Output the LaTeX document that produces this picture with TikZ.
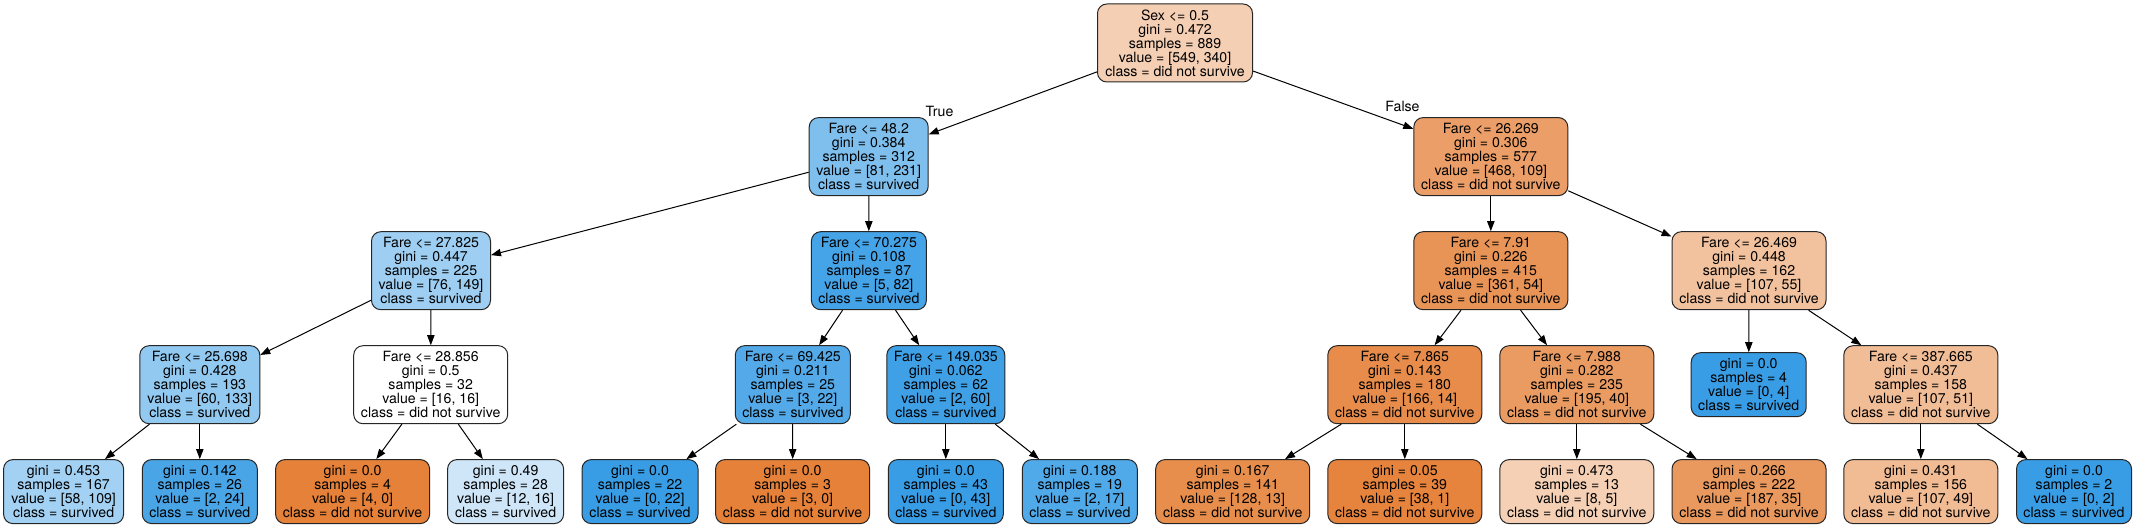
\documentclass[tikz,border=0pt]{standalone}
\usepackage{fontspec}
\setmainfont{TeX Gyre Heros}
\usetikzlibrary{arrows.meta}
\definecolor{cRoot}{RGB}{245,207,180}
\definecolor{cA}{RGB}{126,191,238}
\definecolor{cB}{RGB}{235,158,103}
\definecolor{cC}{RGB}{158,207,242}
\definecolor{cD}{RGB}{69,163,231}
\definecolor{cE}{RGB}{233,148,87}
\definecolor{cF}{RGB}{242,194,159}
\definecolor{cG}{RGB}{146,201,241}
\definecolor{cH}{RGB}{255,255,255}
\definecolor{cI}{RGB}{84,170,233}
\definecolor{cJ}{RGB}{64,160,230}
\definecolor{cK}{RGB}{231,140,74}
\definecolor{cL}{RGB}{234,155,98}
\definecolor{cM}{RGB}{241,189,151}
\definecolor{blueF}{RGB}{57,157,229}
\definecolor{orangeF}{RGB}{229,129,57}
\definecolor{l1c}{RGB}{162,209,243}
\definecolor{l2c}{RGB}{74,165,231}
\definecolor{l4c}{RGB}{206,230,248}
\definecolor{l8c}{RGB}{80,169,232}
\definecolor{l9c}{RGB}{232,142,77}
\definecolor{l10c}{RGB}{230,132,62}
\definecolor{l11c}{RGB}{245,208,181}
\definecolor{l12c}{RGB}{234,153,94}
\definecolor{l13c}{RGB}{241,187,148}
\begin{document}
\begin{tikzpicture}[x=0.75pt,y=-0.75pt,
  tn/.style={draw=black!85, line width=0.75pt, rounded corners=7pt, align=center, inner sep=0pt,
    font=\fontsize{10.6}{10.5}\selectfont, minimum width=#1*0.75pt},
  dn/.style={tn=#1, minimum height=58.5pt},
  lf/.style={tn=#1, minimum height=48pt},
  edge/.style={draw=black, line width=0.75pt, -{Triangle[length=7.5pt,width=5.5pt]}},
  elab/.style={font=\fontsize{10.6}{10.5}\selectfont, inner sep=0pt}]
\useasboundingbox (0,0) rectangle (2136,528);
% level 0
\node[dn=155, fill=cRoot] (root) at (1175,43) {Sex <= 0.5\\gini = 0.472\\samples = 889\\value = [549, 340]\\class = did not survive};
% level 1
\node[dn=119, fill=cA] (n1) at (868.7,156.6) {Fare <= 48.2\\gini = 0.384\\samples = 312\\value = [81, 231]\\class = survived};
\node[dn=154, fill=cB] (n2) at (1490.8,156.6) {Fare <= 26.269\\gini = 0.306\\samples = 577\\value = [468, 109]\\class = did not survive};
% level 2
\node[dn=119, fill=cC] (n3) at (431,270.7) {Fare <= 27.825\\gini = 0.447\\samples = 225\\value = [76, 149]\\class = survived};
\node[dn=115, fill=cD] (n4) at (868.9,270.7) {Fare <= 70.275\\gini = 0.108\\samples = 87\\value = [5, 82]\\class = survived};
\node[dn=154, fill=cE] (n5) at (1490.8,270.7) {Fare <= 7.91\\gini = 0.226\\samples = 415\\value = [361, 54]\\class = did not survive};
\node[dn=154, fill=cF] (n6) at (1749,270.7) {Fare <= 26.469\\gini = 0.448\\samples = 162\\value = [107, 55]\\class = did not survive};
% level 3
\node[dn=120, fill=cG] (n7) at (199.8,384.7) {Fare <= 25.698\\gini = 0.428\\samples = 193\\value = [60, 133]\\class = survived};
\node[dn=154, fill=cH] (n8) at (430.7,384.7) {Fare <= 28.856\\gini = 0.5\\samples = 32\\value = [16, 16]\\class = did not survive};
\node[dn=115, fill=cI] (n9) at (792.8,384.7) {Fare <= 69.425\\gini = 0.211\\samples = 25\\value = [3, 22]\\class = survived};
\node[dn=118, fill=cJ] (n10) at (945.8,384.7) {Fare <= 149.035\\gini = 0.062\\samples = 62\\value = [2, 60]\\class = survived};
\node[dn=154, fill=cK] (n11) at (1404.8,384.7) {Fare <= 7.865\\gini = 0.143\\samples = 180\\value = [166, 14]\\class = did not survive};
\node[dn=154, fill=cL] (n12) at (1576.8,384.7) {Fare <= 7.988\\gini = 0.282\\samples = 235\\value = [195, 40]\\class = did not survive};
\node[lf=115, fill=blueF] (n13) at (1748.7,384.7) {gini = 0.0\\samples = 4\\value = [0, 4]\\class = survived};
\node[dn=154, fill=cM] (n14) at (1920.8,384.7) {Fare <= 387.665\\gini = 0.437\\samples = 158\\value = [107, 51]\\class = did not survive};
% level 4
\node[lf=120, fill=l1c] (l1) at (63.6,491.6) {gini = 0.453\\samples = 167\\value = [58, 109]\\class = survived};
\node[lf=115, fill=l2c] (l2) at (199.8,491.6) {gini = 0.142\\samples = 26\\value = [2, 24]\\class = survived};
\node[lf=154, fill=orangeF] (l3) at (352.6,491.6) {gini = 0.0\\samples = 4\\value = [4, 0]\\class = did not survive};
\node[lf=116, fill=l4c] (l4) at (505.6,491.6) {gini = 0.49\\samples = 28\\value = [12, 16]\\class = survived};
\node[lf=116, fill=blueF] (l5) at (640,491.6) {gini = 0.0\\samples = 22\\value = [0, 22]\\class = survived};
\node[lf=154, fill=orangeF] (l6) at (792.6,491.6) {gini = 0.0\\samples = 3\\value = [3, 0]\\class = did not survive};
\node[lf=115, fill=blueF] (l7) at (945.8,491.6) {gini = 0.0\\samples = 43\\value = [0, 43]\\class = survived};
\node[lf=115, fill=l8c] (l8) at (1079.8,491.6) {gini = 0.188\\samples = 19\\value = [2, 17]\\class = survived};
\node[lf=154, fill=l9c] (l9) at (1232.7,491.6) {gini = 0.167\\samples = 141\\value = [128, 13]\\class = did not survive};
\node[lf=154, fill=l10c] (l10) at (1404.8,491.6) {gini = 0.05\\samples = 39\\value = [38, 1]\\class = did not survive};
\node[lf=154, fill=l11c] (l11) at (1576.8,491.6) {gini = 0.473\\samples = 13\\value = [8, 5]\\class = did not survive};
\node[lf=154, fill=l12c] (l12) at (1749,491.6) {gini = 0.266\\samples = 222\\value = [187, 35]\\class = did not survive};
\node[lf=154, fill=l13c] (l13) at (1920.8,491.6) {gini = 0.431\\samples = 156\\value = [107, 49]\\class = did not survive};
\node[lf=115, fill=blueF] (l14) at (2074,491.6) {gini = 0.0\\samples = 2\\value = [0, 2]\\class = survived};
% edge labels
\node[elab] (tl) at (939.5,111.7) {True};
\node[elab] (fl) at (1402.5,106.2) {False};
% edges
\draw[edge] (root) -- (n1);
\draw[edge] (root) -- (n2);
\draw[edge] (n1) -- (n3);
\draw[edge] (n1) -- (n4);
\draw[edge] (n2) -- (n5);
\draw[edge] (n2) -- (n6);
\draw[edge] (n3) -- (n7);
\draw[edge] (n3) -- (n8);
\draw[edge] (n4) -- (n9);
\draw[edge] (n4) -- (n10);
\draw[edge] (n5) -- (n11);
\draw[edge] (n5) -- (n12);
\draw[edge] (n6) -- (n13);
\draw[edge] (n6) -- (n14);
\draw[edge] (n7) -- (l1);
\draw[edge] (n7) -- (l2);
\draw[edge] (n8) -- (l3);
\draw[edge] (n8) -- (l4);
\draw[edge] (n9) -- (l5);
\draw[edge] (n9) -- (l6);
\draw[edge] (n10) -- (l7);
\draw[edge] (n10) -- (l8);
\draw[edge] (n11) -- (l9);
\draw[edge] (n11) -- (l10);
\draw[edge] (n12) -- (l11);
\draw[edge] (n12) -- (l12);
\draw[edge] (n14) -- (l13);
\draw[edge] (n14) -- (l14);
\end{tikzpicture}
\end{document}
